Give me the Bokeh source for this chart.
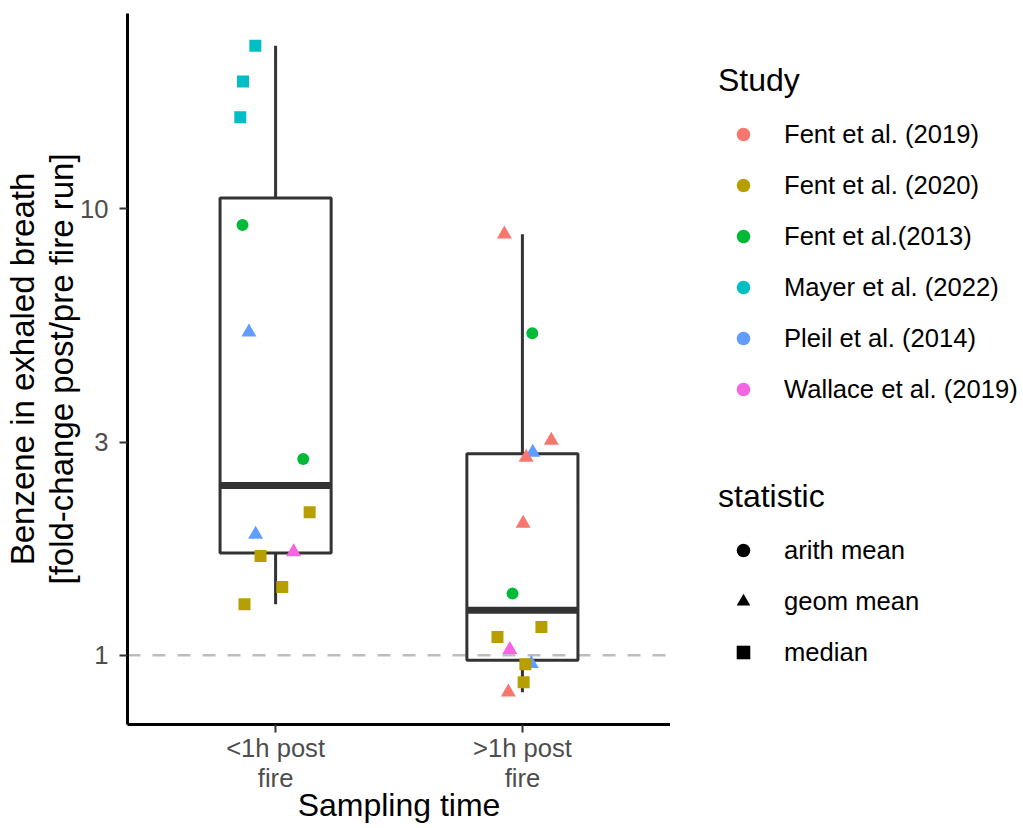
import numpy as np
from bokeh.plotting import figure
from bokeh.layouts import row
from bokeh.models import (Range1d, FixedTicker, CustomJSTickFormatter, Span, Legend,
                          LegendItem, ColumnDataSource)
from bokeh.transform import factor_cmap, factor_mark
from bokeh.embed import file_html
from bokeh.resources import INLINE

# ---------------- data ----------------
groups = ["<1h post fire", ">1h post fire"]
group_tick_labels = ["<1h post\nfire", ">1h post\nfire"]

studies = ["Fent et al. (2019)", "Fent et al. (2020)", "Fent et al.(2013)",
           "Mayer et al. (2022)", "Pleil et al. (2014)", "Wallace et al. (2019)"]
study_colors = ["#F8766D", "#B79F00", "#00BA38", "#00BFC4", "#619CFF", "#F564E3"]

statistics = ["arith mean", "geom mean", "median"]
stat_markers = ["circle", "triangle", "square"]
stat_sizes = [12, 15, 12]

pt_group = ["<1h post fire"] * 12 + [">1h post fire"] * 14
pt_study = [
    "Mayer et al. (2022)", "Mayer et al. (2022)", "Mayer et al. (2022)",
    "Fent et al.(2013)", "Pleil et al. (2014)", "Fent et al.(2013)",
    "Fent et al. (2020)", "Pleil et al. (2014)", "Fent et al. (2020)",
    "Wallace et al. (2019)", "Fent et al. (2020)", "Fent et al. (2020)",
    "Pleil et al. (2014)", "Pleil et al. (2014)", "Fent et al. (2019)",
    "Fent et al.(2013)", "Fent et al. (2019)", "Fent et al. (2019)",
    "Fent et al. (2019)", "Fent et al.(2013)", "Fent et al. (2020)",
    "Fent et al. (2020)", "Wallace et al. (2019)", "Fent et al. (2020)",
    "Fent et al. (2020)", "Fent et al. (2019)",
]
pt_stat = [
    "median", "median", "median",
    "arith mean", "geom mean", "arith mean",
    "median", "geom mean", "median",
    "geom mean", "median", "median",
    "geom mean", "geom mean", "geom mean",
    "arith mean", "geom mean", "geom mean",
    "geom mean", "arith mean", "median",
    "median", "geom mean", "median",
    "median", "geom mean",
]
pt_value = [
    23.2, 19.3, 16.05,
    9.21, 5.30, 2.755,
    2.092, 1.865, 1.670,
    1.704, 1.423, 1.301,
    2.848, 0.958, 8.776,
    5.27, 3.03, 2.776,
    1.974, 1.375, 1.157,
    1.099, 1.030, 0.955,
    0.870, 0.827,
]
pt_jitter = [
    -0.082, -0.132, -0.143,
    -0.134, -0.108, 0.112,
    0.138, -0.081, -0.061,
    0.073, 0.027, -0.126,
    0.042, 0.036, -0.073,
    0.040, 0.117, 0.015,
    0.003, -0.040, 0.077,
    -0.101, -0.051, 0.012,
    0.005, -0.057,
]

# ---------------- derived (log-scale boxplot stats, like ggplot) ----------------
logv = np.log10(np.array(pt_value))
gidx = np.array([groups.index(g) + 1 for g in pt_group])

box_x, q1s, meds, q3s, lows, highs = [], [], [], [], [], []
for gi in range(1, len(groups) + 1):
    v = logv[gidx == gi]
    q1, med, q3 = np.quantile(v, [0.25, 0.5, 0.75])
    iqr = q3 - q1
    lo = v[v >= q1 - 1.5 * iqr].min()
    hi = v[v <= q3 + 1.5 * iqr].max()
    box_x.append(gi)
    q1s.append(10 ** q1); meds.append(10 ** med); q3s.append(10 ** q3)
    lows.append(10 ** lo); highs.append(10 ** hi)

bw = 0.45
box_src = ColumnDataSource(dict(
    x=box_x, left=[b - bw / 2 for b in box_x], right=[b + bw / 2 for b in box_x],
    q1=q1s, med=meds, q3=q3s, lo=lows, hi=highs))

size_map = dict(zip(statistics, stat_sizes))
pt_src = ColumnDataSource(dict(
    x=[g + j for g, j in zip(gidx, pt_jitter)], y=pt_value,
    study=pt_study, stat=pt_stat, size=[size_map[s] for s in pt_stat]))

span = logv.max() - logv.min()
ylo = 10 ** (logv.min() - 0.05 * span)
yhi = 10 ** (logv.max() + 0.05 * span)

FONT = "Liberation Sans"

p = figure(width=670, height=828, x_range=Range1d(0.4, 2.6), y_range=Range1d(ylo, yhi),
           y_axis_type="log", output_backend="svg", toolbar_location=None,
           min_border_left=127, min_border_right=0, min_border_top=13, min_border_bottom=104)
p.outline_line_color = None
p.xgrid.visible = False
p.ygrid.visible = False
p.background_fill_color = "white"
p.border_fill_color = "white"

# reference line at 1
p.add_layout(Span(location=1, dimension="width", line_color="#BDBDBD", line_width=2.5,
                  line_dash="13 12", level="underlay"))

# boxes
p.quad(left="left", right="right", bottom="q1", top="q3", source=box_src,
       fill_color=None, line_color="#333333", line_width=3)
p.segment(x0="left", x1="right", y0="med", y1="med", source=box_src,
          line_color="#333333", line_width=7)
p.segment(x0="x", x1="x", y0="q3", y1="hi", source=box_src, line_color="#333333", line_width=3)
p.segment(x0="x", x1="x", y0="q1", y1="lo", source=box_src, line_color="#333333", line_width=3)

# points
p.scatter(x="x", y="y", source=pt_src, size="size",
          marker=factor_mark("stat", stat_markers, statistics),
          fill_color=factor_cmap("study", study_colors, studies), line_color=None)

# axes
for ax in (p.xaxis[0], p.yaxis[0]):
    ax.axis_line_color = "black"
    ax.axis_line_width = 3
    ax.major_tick_line_color = "#333333"
    ax.major_tick_line_width = 2
    ax.major_tick_out = 8
    ax.major_tick_in = 0
    ax.minor_tick_line_color = None
    ax.major_label_text_font = FONT
    ax.major_label_text_font_size = "25.6px"
    ax.major_label_text_color = "#4D4D4D"
    ax.axis_label_text_font = FONT
    ax.axis_label_text_font_size = "32px"
    ax.axis_label_text_font_style = "normal"
    ax.axis_label_text_color = "black"

p.xaxis.ticker = FixedTicker(ticks=[1, 2])
p.xaxis.major_label_overrides = {i + 1: lab for i, lab in enumerate(group_tick_labels)}
p.xaxis.major_label_text_line_height = 1.1
p.xaxis.axis_label = "Sampling time"
p.xaxis.major_label_standoff = 1
p.xaxis.axis_label_standoff = -8

p.yaxis.ticker = FixedTicker(ticks=[1, 3, 10])
p.yaxis.formatter = CustomJSTickFormatter(code="return String(tick);")
p.yaxis.axis_label = "Benzene in exhaled breath\n[fold-change post/pre fire run]"
p.yaxis.axis_label_text_font_size = "33px"
p.yaxis.axis_label_text_line_height = 1.05
p.yaxis.major_label_standoff = 11
p.yaxis.axis_label_standoff = -3

# ---------------- legend panel (separate figure to the right) ----------------
lf = figure(width=353, height=828, x_range=Range1d(0, 1), y_range=Range1d(0, 1),
            output_backend="svg", toolbar_location=None,
            x_axis_location=None, y_axis_location=None,
            min_border_left=0, min_border_right=0, min_border_top=0, min_border_bottom=0)
lf.outline_line_color = None
lf.xgrid.visible = False
lf.ygrid.visible = False
lf.border_fill_color = "white"

# legend key renderers: one point each, placed far outside the visible range
study_items = []
for s, c in zip(studies, study_colors):
    r = lf.scatter(x=[50], y=[50], marker="circle", fill_color=c, line_color=None)
    study_items.append(LegendItem(label=s, renderers=[r]))
stat_items = []
for s, m in zip(statistics, stat_markers):
    r = lf.scatter(x=[50], y=[50], marker=m, fill_color="black", line_color=None)
    stat_items.append(LegendItem(label=s, renderers=[r]))


def style_legend(lg):
    lg.title_text_font = FONT
    lg.title_text_font_size = "32px"
    lg.title_text_font_style = "normal"
    lg.title_text_color = "black"
    lg.label_text_font = FONT
    lg.label_text_font_size = "25.6px"
    lg.label_text_color = "black"
    lg.background_fill_alpha = 0
    lg.border_line_color = None
    lg.padding = 0
    lg.margin = 0
    lg.glyph_width = 50
    lg.glyph_height = 34
    lg.label_height = 34
    lg.label_standoff = 16
    lg.spacing = 17
    lg.title_standoff = 18


lg1 = Legend(items=study_items, title="Study", location=(48, 318))
style_legend(lg1)
lg2 = Legend(items=stat_items, title="statistic", location=(48, 55))
style_legend(lg2)
lf.add_layout(lg1)
lf.add_layout(lg2)

layout = row(p, lf, spacing=0)
open("out.html", "w").write(file_html(layout, INLINE))
